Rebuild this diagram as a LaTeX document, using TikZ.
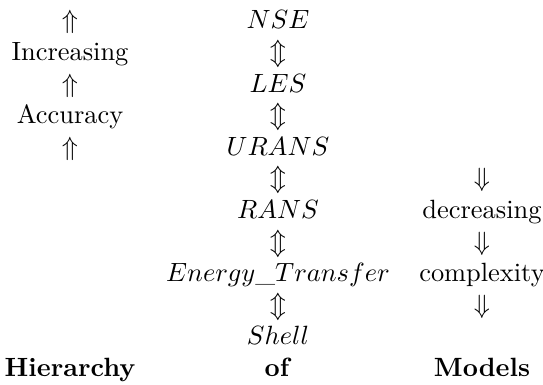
\documentclass[tikz,border=0pt]{standalone}
\begin{document}
\begin{tikzpicture}[x=0.3788pt,y=-0.3788pt,
  lbl/.style={anchor=base,inner sep=0pt,outer sep=0pt}]
\useasboundingbox (0,0) rectangle (543,385);
% left column
\node[lbl] (l1) at (70,29)    {$\Uparrow$};
\node[lbl] (l2) at (70,60.6)  {Increasing};
\node[lbl] (l3) at (70,92.2)  {$\Uparrow$};
\node[lbl] (l4) at (70,123.8) {Accuracy};
\node[lbl] (l5) at (70,155.4) {$\Uparrow$};
\node[lbl] (l12) at (70,376.6) {\textbf{Hierarchy}};
% middle column
\node[lbl] (m1) at (278,29)    {$NSE$};
\node[lbl] (m2) at (278,60.6)  {$\Updownarrow$};
\node[lbl] (m3) at (278,92.2)  {$LES$};
\node[lbl] (m4) at (278,123.8) {$\Updownarrow$};
\node[lbl] (m5) at (278,155.4) {$URANS$};
\node[lbl] (m6) at (278,187)   {$\Updownarrow$};
\node[lbl] (m7) at (278,218.6) {$RANS$};
\node[lbl] (m8) at (278,250.2) {$\Updownarrow$};
\node[lbl] (m9) at (278,281.8) {$Energy\_Transfer$};
\node[lbl] (m10) at (278,313.4) {$\Updownarrow$};
\node[lbl] (m11) at (278,345)  {$Shell$};
\node[lbl] (m12) at (278,376.6) {\textbf{of}};
% right column
\node[lbl] (r6) at (482,187)   {$\Downarrow$};
\node[lbl] (r7) at (482,218.6) {decreasing};
\node[lbl] (r8) at (482,250.2) {$\Downarrow$};
\node[lbl] (r9) at (482,281.8) {complexity};
\node[lbl] (r10) at (482,313.4) {$\Downarrow$};
\node[lbl] (r12) at (482,376.6) {\textbf{Models}};
\end{tikzpicture}
\end{document}
